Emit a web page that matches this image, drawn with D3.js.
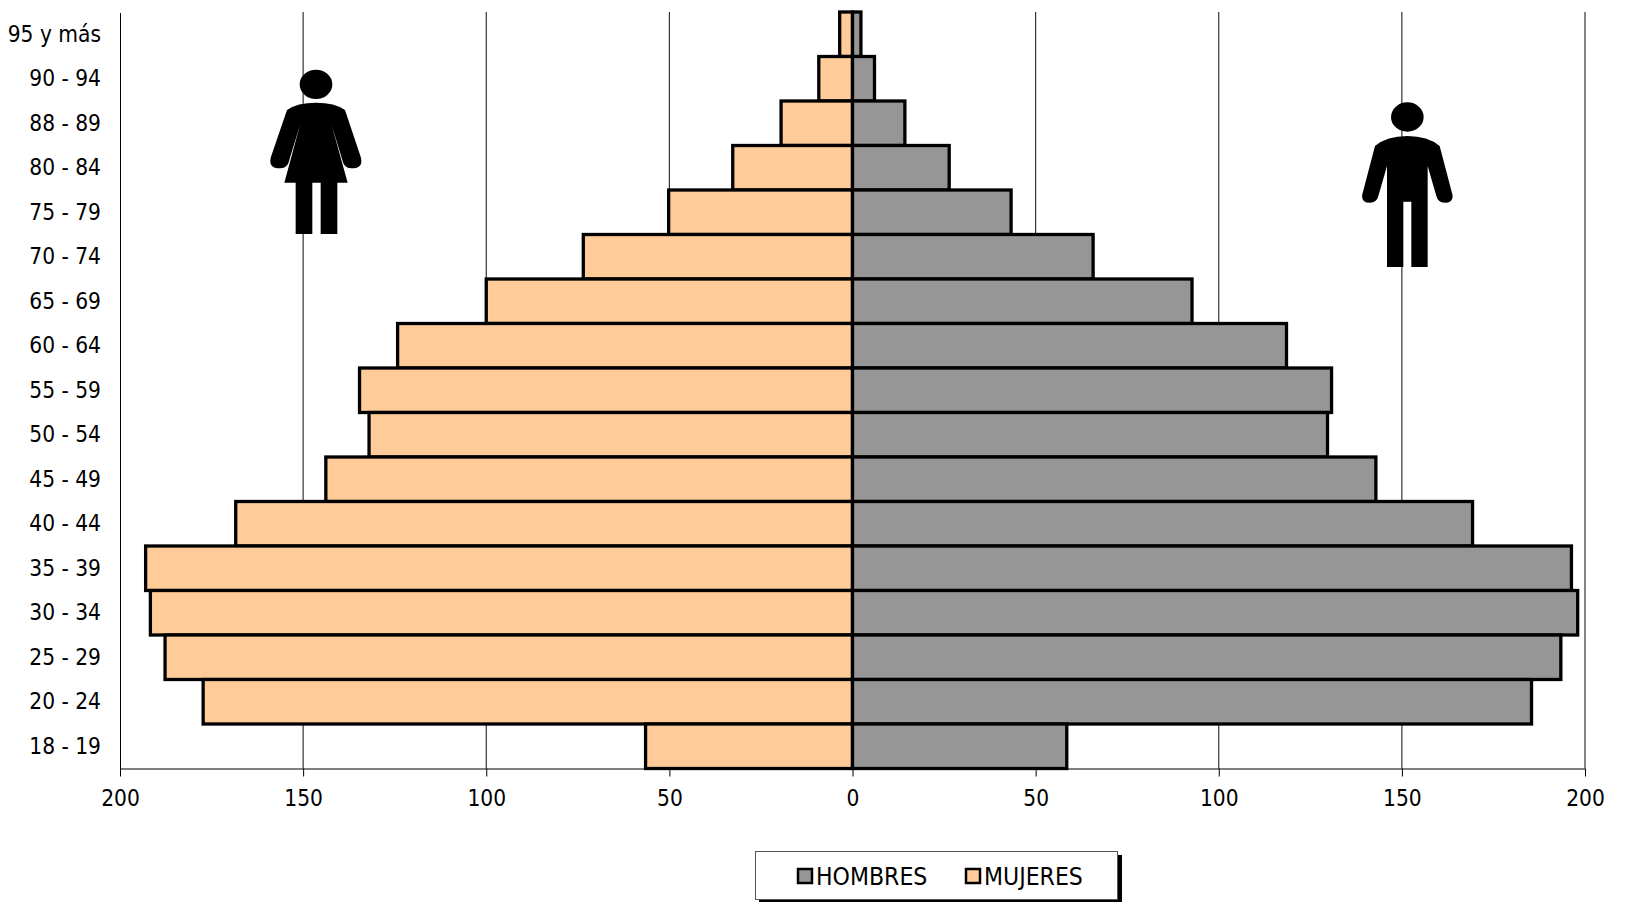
<!DOCTYPE html>
<html>
<head>
<meta charset="utf-8">
<script src="https://cdnjs.cloudflare.com/ajax/libs/d3/7.8.5/d3.min.js"></script>
<style>
html, body { margin: 0; padding: 0; background: #fff; }
svg { display: block; font-family: "DejaVu Sans Condensed", "DejaVu Sans", sans-serif; font-stretch: condensed; }
</style>
</head>
<body>
<svg id="chart" width="1648" height="902"></svg>
<script>
var ageGroups = ["95 y más", "90 - 94", "88 - 89", "80 - 84", "75 - 79", "70 - 74", "65 - 69", "60 - 64", "55 - 59",
	"50 - 54", "45 - 49", "40 - 44", "35 - 39", "30 - 34", "25 - 29", "20 - 24", "18 - 19"];
var mujeres = [3.5, 9.2, 19.5, 32.7, 50.2, 73.5, 100, 124.2, 134.6, 132, 143.8, 168.4, 193, 191.7, 187.7, 177.3, 56.5];
var hombres = [2.3, 6, 14.3, 26.4, 43.3, 65.7, 92.7, 118.5, 130.8, 129.7, 142.9, 169.3, 196.3, 198, 193.4, 185.4, 58.5];
var xTicks = [-200, -150, -100, -50, 0, 50, 100, 150, 200];
var legendLabels = ["HOMBRES", "MUJERES"];

var colorMujeres = "#FFCC99",
	colorHombres = "#969696";

var svg = d3.select("#chart");

var x = d3.scaleLinear().domain([-200, 200]).range([120, 1585]);
var y = d3.scaleBand().domain(ageGroups).range([12, 768.5]);

// Gridlines, behind the bars
svg.append("g").selectAll("line")
	.data(xTicks.slice(1))
	.enter().append("line")
	.attr("x1", function(d) { return x(d); })
	.attr("x2", function(d) { return x(d); })
	.attr("y1", y.range()[0])
	.attr("y2", y.range()[1])
	.style("stroke", "#222")
	.style("stroke-width", 1.1);

function addBars(values, color, left) {
	svg.append("g").selectAll("rect")
		.data(values)
		.enter().append("rect")
		.attr("x", function(d) { return left ? x(-d) : x(0); })
		.attr("y", function(d, i) { return y(ageGroups[i]); })
		.attr("width", function(d) { return left ? x(0) - x(-d) : x(d) - x(0); })
		.attr("height", y.bandwidth())
		.style("fill", color)
		.style("stroke", "#000")
		.style("stroke-width", 3.3);
}
addBars(mujeres, colorMujeres, true);
addBars(hombres, colorHombres, false);

// Axes
var xAxis = d3.axisBottom(x)
	.tickValues(xTicks)
	.tickSize(8)
	.tickPadding(14)
	.tickFormat(function(d) { return Math.abs(d); });
var gx = svg.append("g")
	.attr("transform", "translate(0," + y.range()[1] + ")")
	.call(xAxis);
gx.select(".domain").attr("d", "M" + x.range()[0] + ",0.5H" + x.range()[1]);

var yAxis = d3.axisLeft(y).tickSize(0).tickPadding(19);
var gy = svg.append("g")
	.attr("transform", "translate(" + x.range()[0] + ",0.5)")
	.call(yAxis);

svg.selectAll(".tick text")
	.style("font-family", '"DejaVu Sans Condensed", "DejaVu Sans", sans-serif')
	.style("font-size", "22.5px")
	.style("fill", "#000");
svg.selectAll(".domain, .tick line").style("stroke", "#000");

// Figures
var woman = svg.append("g").attr("transform", "scale(0.33333)");
woman.append("ellipse").attr("cx", 948).attr("cy", 253).attr("rx", 49).attr("ry", 44);
woman.append("path").attr("d",
	"M948,308 Q1005,308 1035,330 L1082,470 Q1092,505 1055,505 Q1036,505 1030,490 L995,375 L1043,548 L1012,548 L1012,702 " +
	"L962,702 L962,548 L937,548 L937,702 L887,702 L887,548 L853,548 L900,375 L865,490 Q859,505 840,505 Q803,505 813,470 " +
	"L861,330 Q891,308 948,308 Z");

var man = svg.append("g").attr("transform", "translate(1240,81) scale(0.33333)");
man.append("ellipse").attr("cx", 502).attr("cy", 108).attr("rx", 49).attr("ry", 44);
man.append("path").attr("d",
	"M502,165 Q440,165 405,195 L367,340 Q362,365 390,365 Q410,365 415,345 L441,255 L441,558 L490,558 L490,362 L514,362 " +
	"L514,558 L563,558 L563,255 L589,345 Q594,365 614,365 Q642,365 637,340 L599,195 Q564,165 502,165 Z");

// Legend
svg.append("rect").attr("x", 759).attr("y", 855).attr("width", 363).attr("height", 47).style("fill", "#000");
svg.append("rect").attr("x", 755.5).attr("y", 851.5).attr("width", 362).attr("height", 48)
	.style("fill", "#fff").style("stroke", "#555").style("stroke-width", 1);

var legendX = d3.scalePoint().domain(legendLabels).range([798, 966]);
var legendColor = d3.scaleOrdinal().domain(legendLabels).range([colorHombres, colorMujeres]);
var legend = svg.append("g").selectAll("g")
	.data(legendLabels)
	.enter().append("g")
	.attr("transform", function(d) { return "translate(" + legendX(d) + ",869)"; });
legend.append("rect")
	.attr("width", 14)
	.attr("height", 14)
	.style("fill", function(d) { return legendColor(d); })
	.style("stroke", "#000")
	.style("stroke-width", 2.5);
legend.append("text")
	.attr("x", 18)
	.attr("y", 16)
	.style("font-size", "24.5px")
	.text(function(d) { return d; });
</script>
</body>
</html>
